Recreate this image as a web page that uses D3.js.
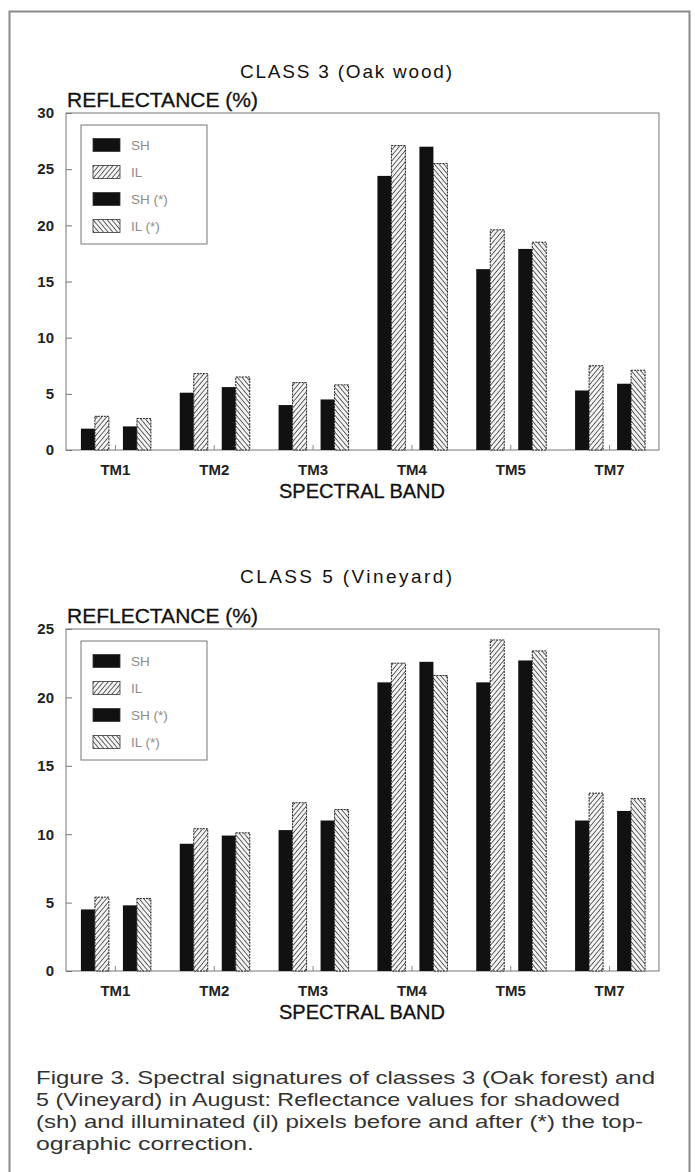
<!DOCTYPE html>
<html>
<head>
<meta charset="utf-8">
<script src="https://cdn.jsdelivr.net/npm/d3@7"></script>
<style>
  body { margin: 0; background: #fff; }
  svg { display: block; }
</style>
</head>
<body>
<div id="fig"></div>
<script>
// bands on the x axis
const bands = ["TM1", "TM2", "TM3", "TM4", "TM5", "TM7"];
const seriesNames = ["SH", "IL", "SH (*)", "IL (*)"];

// class 3 - oak wood
const oakSH     = [1.9, 5.1, 4.0, 24.4, 16.1, 5.3];
const oakIL     = [3.0, 6.8, 6.0, 27.1, 19.6, 7.5];
const oakSHcorr = [2.1, 5.6, 4.5, 27.0, 17.9, 5.9];
const oakILcorr = [2.8, 6.5, 5.8, 25.5, 18.5, 7.1];
const oakTicks  = [0, 5, 10, 15, 20, 25, 30];

// class 5 - vineyard
const vinSH     = [4.5, 9.3, 10.3, 21.1, 21.1, 11.0];
const vinIL     = [5.4, 10.4, 12.3, 22.5, 24.2, 13.0];
const vinSHcorr = [4.8, 9.9, 11.0, 22.6, 22.7, 11.7];
const vinILcorr = [5.3, 10.1, 11.8, 21.6, 23.4, 12.6];
const vinTicks  = [0, 5, 10, 15, 20, 25];

const captionLines = [
  "Figure 3. Spectral signatures of classes 3 (Oak forest) and",
  "5 (Vineyard) in August: Reflectance values for shadowed",
  "(sh) and illuminated (il) pixels before and after (*) the top-",
  "ographic correction."
];

const W = 695, H = 1172;
const svg = d3.select("#fig").append("svg").attr("width", W).attr("height", H);

// hatch patterns
const defs = svg.append("defs");
function hatch(id, angle) {
  const p = defs.append("pattern").attr("id", id)
    .attr("patternUnits", "userSpaceOnUse")
    .attr("width", 3.6).attr("height", 3.6)
    .attr("patternTransform", "rotate(" + angle + ")");
  p.append("rect").attr("width", 3.6).attr("height", 3.6).attr("fill", "#f4f4f4");
  p.append("line").attr("x1", 0).attr("y1", 0).attr("x2", 0).attr("y2", 3.6)
    .attr("stroke", "#333").attr("stroke-width", 1.5);
}
hatch("hatchR", 40);
hatch("hatchL", -40);

const fills = ["#111", "url(#hatchR)", "#111", "url(#hatchL)"];
const offsets = d3.scaleOrdinal().domain(seriesNames).range([-34.5, -20.5, 7.5, 21.5]);
const barW = 14;

// outer figure border
svg.append("rect").attr("x", 9.5).attr("y", 11.5).attr("width", 680).attr("height", 1200)
  .attr("fill", "none").attr("stroke", "#8a8a8a").attr("stroke-width", 2);

const font = "'Liberation Sans', Arial, sans-serif";

function drawChart(o) {
  const g = svg.append("g");
  const x = d3.scaleBand().domain(bands).range([66, 659]);
  const y = d3.scaleLinear().domain([0, o.max]).range([o.bottom, o.top]);

  g.append("text").attr("x", 346).attr("y", o.titleY)
    .attr("text-anchor", "middle").attr("font-family", font).attr("font-size", 19)
    .attr("textLength", 212).attr("lengthAdjust", "spacing")
    .attr("fill", "#111").text(o.title);

  g.append("text").attr("x", 67).attr("y", o.top - 6)
    .attr("font-family", font).attr("font-size", 21)
    .attr("fill", "#111").attr("stroke", "#111").attr("stroke-width", 0.3)
    .text("REFLECTANCE (%)");

  // plot frame
  g.append("rect").attr("x", 66).attr("y", o.top).attr("width", 593).attr("height", o.bottom - o.top)
    .attr("fill", "none").attr("stroke", "#777").attr("stroke-width", 1);

  // y axis, ticks pointing inward
  const yAxis = d3.axisLeft(y).tickValues(o.ticks).tickSize(-6).tickPadding(12);
  const ya = g.append("g").attr("transform", "translate(66,0)").call(yAxis);
  ya.select(".domain").remove();
  ya.selectAll(".tick line").attr("stroke", "#777");
  ya.selectAll(".tick text").attr("font-family", font).attr("font-size", 15)
    .attr("font-weight", "bold").attr("fill", "#222");

  // x axis, small ticks pointing up
  const xAxis = d3.axisBottom(x).tickSize(-5).tickPadding(14);
  const xa = g.append("g").attr("transform", "translate(0," + o.bottom + ")").call(xAxis);
  xa.select(".domain").remove();
  xa.selectAll(".tick line").attr("stroke", "#888");
  xa.selectAll(".tick text").attr("font-family", font).attr("font-size", 15)
    .attr("font-weight", "bold").attr("fill", "#222");

  g.append("text").attr("x", 362).attr("y", o.bottom + 48)
    .attr("text-anchor", "middle").attr("font-family", font).attr("font-size", 20)
    .attr("fill", "#111").attr("stroke", "#111").attr("stroke-width", 0.3)
    .text("SPECTRAL BAND");

  // bars
  const rows = [];
  o.series.forEach((vals, si) => {
    vals.forEach((v, bi) => rows.push({ band: bands[bi], name: seriesNames[si], si: si, v: v }));
  });
  g.selectAll(".bar").data(rows).enter().append("rect").attr("class", "bar")
    .attr("x", d => x(d.band) + x.bandwidth() / 2 + offsets(d.name))
    .attr("y", d => y(d.v))
    .attr("width", barW)
    .attr("height", d => o.bottom - y(d.v))
    .attr("fill", d => fills[d.si])
    .attr("stroke", "#222").attr("stroke-width", d => d.si % 2 ? 1 : 0)
    .attr("stroke-dasharray", d => d.si % 2 ? "2,1" : null);

  // legend
  const lx = 81, ly = o.top + 12;
  g.append("rect").attr("x", lx).attr("y", ly).attr("width", 126).attr("height", 119)
    .attr("fill", "#fff").attr("stroke", "#777").attr("stroke-width", 1);
  const li = g.selectAll(".leg").data(seriesNames).enter().append("g")
    .attr("transform", (d, i) => "translate(" + (lx + 12) + "," + (ly + 20 + i * 27) + ")");
  li.append("rect").attr("x", 0).attr("y", -6.5).attr("width", 27).attr("height", 13)
    .attr("fill", (d, i) => fills[i]).attr("stroke", "#333").attr("stroke-width", 0.8);
  li.append("text").attr("x", 38).attr("y", 5).attr("font-family", font).attr("font-size", 13.5)
    .attr("fill", "#8c8c8c").text(d => d);
}

drawChart({ title: "CLASS 3 (Oak wood)", titleY: 78, max: 30, ticks: oakTicks, top: 113, bottom: 450,
  series: [oakSH, oakIL, oakSHcorr, oakILcorr] });
drawChart({ title: "CLASS 5 (Vineyard)", titleY: 583, max: 25, ticks: vinTicks, top: 629, bottom: 971,
  series: [vinSH, vinIL, vinSHcorr, vinILcorr] });

// caption, fitted to the printed line widths
const captionWidths = [619, 584, 607, 218];
svg.append("g").selectAll("text").data(captionLines).enter().append("text")
  .attr("x", 36).attr("y", (d, i) => 1084 + i * 22)
  .attr("font-family", font)
  .attr("font-size", 18.5).attr("fill", "#333")
  .attr("textLength", (d, i) => captionWidths[i]).attr("lengthAdjust", "spacingAndGlyphs")
  .text(d => d);
</script>
</body>
</html>
